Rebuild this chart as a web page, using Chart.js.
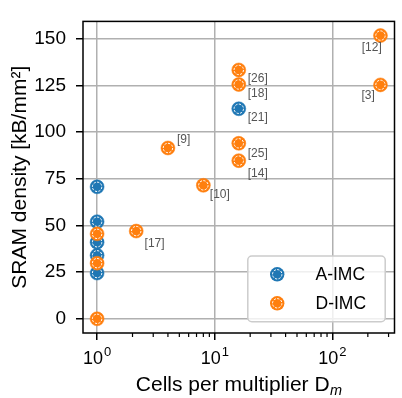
<!DOCTYPE html>
<html>
<head>
<meta charset="utf-8">
<script src="https://cdn.jsdelivr.net/npm/chart.js@4.4.0/dist/chart.umd.min.js"></script>
<style>
html, body { margin: 0; padding: 0; background: #fff; }
#wrap { width: 402px; height: 398px; position: relative; }
</style>
</head>
<body>
<div id="wrap"><canvas id="myChart"></canvas></div>
<script>
// values
var aImcCells = [1, 1, 1, 1, 1, 16];
var aImcDensity = [70.7, 52, 41, 34, 24.5, 112.5];
var aImcRefs = ['', '', '', '', '', '[21]'];

var dImcCells = [1, 1, 1, 2.15, 4, 8, 16, 16, 16, 16, 256, 256];
var dImcDensity = [45.5, 29.8, 0, 47, 91.5, 71.5, 133.3, 125.5, 94, 84.7, 151.7, 125.3];
var dImcRefs = ['', '', '', '[17]', '[9]', '[10]', '[26]', '[18]', '[25]', '[14]', '[12]', '[3]'];

var xMajorTicks = [1, 10, 100];
var xTickExps = ['0', '1', '2'];
var yTicks = [0, 25, 50, 75, 100, 125, 150];

var FONT = '"Liberation Sans", Arial, Helvetica, sans-serif';
var BLUE = '#1f77b4', ORANGE = '#ff7f0e';

// where each reference label sits relative to its point
var refOffsets = {
    '[9]': [9, -8, 'left'],
    '[10]': [6.5, 9.7, 'left'],
    '[17]': [8.4, 12.3, 'left'],
    '[26]': [9, 8.4, 'left'],
    '[18]': [9, 8.7, 'left'],
    '[21]': [9, 8.7, 'left'],
    '[25]': [9, 10, 'left'],
    '[14]': [9, 13, 'left'],
    '[12]': [1.3, 11.6, 'right'],
    '[3]': [-5.7, 11, 'right']
};

function toPoints(xs, ys) {
    return xs.map(function (x, i) { return {x: x, y: ys[i]}; });
}

function ring(ctx, x, y) {
    ctx.save();
    ctx.strokeStyle = '#ffffff';
    ctx.lineWidth = 1;
    ctx.setLineDash([2.2, 1.4]);
    ctx.beginPath();
    ctx.arc(x, y, 4.7, 0, Math.PI * 2);
    ctx.stroke();
    ctx.restore();
}

function marker(ctx, x, y, color) {
    ctx.save();
    ctx.fillStyle = color;
    ctx.beginPath();
    ctx.arc(x, y, 7.2, 0, Math.PI * 2);
    ctx.fill();
    ctx.restore();
    ring(ctx, x, y);
}

var overlay = {
    id: 'overlay',
    afterDatasetDraw: function (chart, args) {
        var ctx = chart.ctx;
        args.meta.data.forEach(function (pt) { ring(ctx, pt.x, pt.y); });
    },
    afterDatasetsDraw: function (chart) {
        var ctx = chart.ctx;
        ctx.save();
        ctx.font = '12px ' + FONT;
        ctx.fillStyle = '#555555';
        ctx.textBaseline = 'middle';
        chart.data.datasets.forEach(function (ds, i) {
            var meta = chart.getDatasetMeta(i);
            ds.refs.forEach(function (ref, j) {
                if (!ref) return;
                var off = refOffsets[ref];
                var pt = meta.data[j];
                ctx.textAlign = off[2];
                ctx.fillText(ref, pt.x + off[0], pt.y + off[1]);
            });
        });
        ctx.restore();
    },
    afterDraw: function (chart) {
        var ctx = chart.ctx;
        var a = chart.chartArea;
        var xs = chart.scales.x;
        ctx.save();

        // minor ticks on the log axis
        ctx.strokeStyle = '#000';
        ctx.lineWidth = 1.2;
        [1, 10, 100].forEach(function (dec) {
            for (var k = 2; k <= 9; k++) {
                var v = k * dec;
                if (v > xs.max) break;
                var px = xs.getPixelForValue(v);
                ctx.beginPath();
                ctx.moveTo(px, a.bottom);
                ctx.lineTo(px, a.bottom + 4);
                ctx.stroke();
            }
        });

        // spines
        ctx.lineWidth = 1.5;
        ctx.strokeRect(a.left, a.top, a.right - a.left, a.bottom - a.top);

        // x tick labels 10^n
        ctx.fillStyle = '#000';
        ctx.textBaseline = 'alphabetic';
        ctx.textAlign = 'left';
        xMajorTicks.forEach(function (v, i) {
            var px = xs.getPixelForValue(v);
            ctx.font = '18px ' + FONT;
            var w1 = ctx.measureText('10').width;
            ctx.font = '13px ' + FONT;
            var w2 = ctx.measureText(xTickExps[i]).width;
            var x0 = px - (w1 + w2 + 1) / 2;
            ctx.font = '18px ' + FONT;
            ctx.fillText('10', x0, 364);
            ctx.font = '13px ' + FONT;
            ctx.fillText(xTickExps[i], x0 + w1 + 1, 356);
        });

        // x title with subscript
        var main = 'Cells per multiplier D';
        ctx.font = '21px ' + FONT;
        var wm = ctx.measureText(main).width;
        ctx.font = 'italic 14.5px ' + FONT;
        var ws = ctx.measureText('m').width;
        var cx = (a.left + a.right) / 2;
        var tx = cx - (wm + ws) / 2;
        ctx.font = '21px ' + FONT;
        ctx.fillText(main, tx, 391);
        ctx.font = 'italic 14.5px ' + FONT;
        ctx.fillText('m', tx + wm + 0.5, 395);

        // y title
        ctx.save();
        ctx.translate(26, (a.top + a.bottom) / 2);
        ctx.rotate(-Math.PI / 2);
        ctx.font = '21px ' + FONT;
        ctx.textAlign = 'center';
        ctx.fillText('SRAM density [kB/mm\u00B2]', 0, 0);
        ctx.restore();

        // legend
        var lw = 137.4, lh = 65.7;
        var lx = a.right - 9.3 - lw, ly = a.bottom - 11.3 - lh;
        ctx.fillStyle = 'rgba(255,255,255,0.8)';
        ctx.strokeStyle = '#cccccc';
        ctx.lineWidth = 1.5;
        ctx.beginPath();
        ctx.roundRect(lx, ly, lw, lh, 4);
        ctx.fill();
        ctx.stroke();
        ctx.font = '17.5px ' + FONT;
        ctx.textBaseline = 'middle';
        ctx.textAlign = 'left';
        chart.data.datasets.slice().reverse().forEach(function (ds, i) {
            var ry = ly + 18.3 + i * 29;
            marker(ctx, lx + 29.4, ry, ds.backgroundColor);
            ctx.fillStyle = '#000';
            ctx.fillText(ds.label, lx + 67.7, ry + 1);
        });
        ctx.restore();
    }
};

var chart = new Chart(document.getElementById('myChart'), {
    type: 'scatter',
    data: {
        datasets: [{
            label: 'D-IMC',
            data: toPoints(dImcCells, dImcDensity),
            refs: dImcRefs,
            backgroundColor: ORANGE,
            borderColor: ORANGE,
            borderWidth: 0.5,
            pointRadius: 7,
            order: 1
        }, {
            label: 'A-IMC',
            data: toPoints(aImcCells, aImcDensity),
            refs: aImcRefs,
            backgroundColor: BLUE,
            borderColor: BLUE,
            borderWidth: 0.5,
            pointRadius: 7,
            order: 2
        }]
    },
    options: {
        responsive: true,
        maintainAspectRatio: false,
        animation: false,
        events: [],
        layout: {padding: {top: 2, right: 2, left: 0, bottom: 0}},
        plugins: {legend: {display: false}, tooltip: {enabled: false}},
        scales: {
            x: {
                type: 'logarithmic',
                min: 0.759,
                max: 337,
                afterBuildTicks: function (scale) {
                    scale.ticks = xMajorTicks.map(function (v) { return {value: v}; });
                },
                afterFit: function (scale) { scale.height = 65; },
                ticks: {display: false},
                grid: {color: '#b0b0b0', lineWidth: 1.5, tickLength: 7, tickColor: '#000', tickWidth: 1.5},
                border: {display: false}
            },
            y: {
                min: -7.6,
                max: 159.3,
                afterBuildTicks: function (scale) {
                    scale.ticks = yTicks.map(function (v) { return {value: v}; });
                },
                afterFit: function (scale) { scale.width = 83; },
                ticks: {color: '#000', font: {family: FONT, size: 19}, padding: 10},
                grid: {color: '#b0b0b0', lineWidth: 1.5, tickLength: 7, tickColor: '#000', tickWidth: 1.5},
                border: {display: false}
            }
        }
    },
    plugins: [overlay]
});
</script>
</body>
</html>
